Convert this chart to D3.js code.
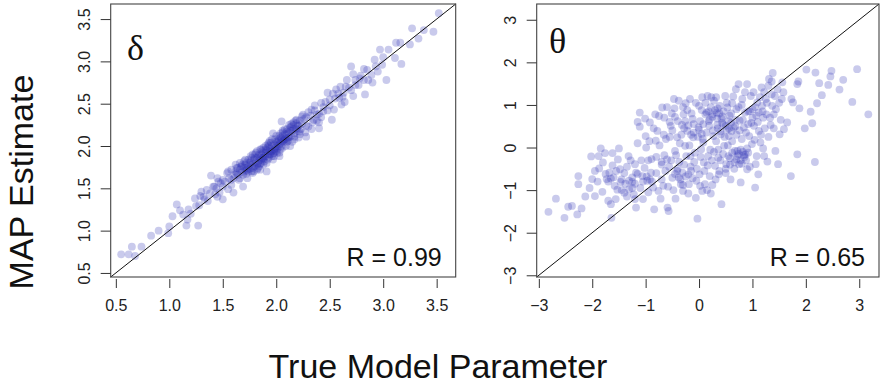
<!DOCTYPE html>
<html><head><meta charset="utf-8">
<script src="https://cdn.jsdelivr.net/npm/d3@7"></script>
<style>html,body{margin:0;padding:0;background:#fff;}svg{display:block;}</style>
</head><body>
<svg id="chart" width="880" height="385"></svg>
<script>
// ---------- data ----------
const deltaTicks = [0.5, 1.0, 1.5, 2.0, 2.5, 3.0, 3.5];
const thetaTicks = [-3, -2, -1, 0, 1, 2, 3];
const deltaR = "R = 0.99";
const thetaR = "R = 0.65";
// [true, MAP]
const deltaPoints = [
[0.55,0.72],[0.62,0.72],[0.65,0.81],[0.68,0.70],[0.74,0.81],[0.83,0.94],[0.90,1.00],[0.99,0.97],[1.00,1.05],[1.03,1.17],
[1.07,1.31],[1.10,1.24],[1.13,1.19],[1.16,1.06],[1.17,1.13],[1.18,1.25],[1.25,1.29],[1.27,1.06],[1.29,1.41],[1.30,1.46],
[1.33,1.37],[1.36,1.35],[1.39,1.65],[1.41,1.52],[1.43,1.43],[1.46,1.58],[1.48,1.56],[1.50,1.37],[1.54,1.68],[1.55,1.49],
[1.58,1.54],[1.60,1.45],[1.63,1.68],[1.65,1.60],[1.68,1.76],[1.69,1.52],[1.72,1.71],[1.75,1.80],[1.78,1.68],[1.82,1.86],
[1.83,1.74],[1.85,1.96],[1.88,1.84],[1.91,1.70],[1.93,2.00],[1.94,1.90],[1.97,2.15],[1.99,1.96],[2.01,2.04],[2.03,1.88],
[2.05,2.29],[2.07,2.07],[2.10,2.17],[2.13,2.00],[2.14,2.23],[2.17,2.11],[2.19,2.31],[2.22,2.17],[2.25,2.37],[2.28,2.11],
[2.30,2.23],[2.33,2.43],[2.35,2.31],[2.38,2.37],[2.40,2.21],[2.42,2.51],[2.44,2.41],[2.48,2.63],[2.50,2.55],[2.52,2.31],
[2.54,2.43],[2.56,2.67],[2.59,2.57],[2.61,2.49],[2.63,2.63],[2.66,2.78],[2.68,2.69],[2.70,2.94],[2.72,2.59],[2.74,2.78],
[2.77,2.72],[2.79,2.83],[2.82,2.91],[2.83,2.61],[2.86,2.78],[2.89,2.84],[2.92,3.02],[2.93,2.94],[2.95,2.88],[2.97,3.14],
[2.99,2.96],[3.03,2.78],[3.05,3.14],[3.11,3.04],[3.12,3.22],[3.16,3.22],[3.17,2.97],[3.25,3.20],[3.27,3.39],[3.33,3.27],
[3.38,3.37],[3.47,3.35],[3.52,3.57],
[1.62,1.70],[1.64,1.66],[1.66,1.72],[1.68,1.69],[1.70,1.74],[1.71,1.78],[1.72,1.67],[1.74,1.76],[1.75,1.73],[1.76,1.82],
[1.77,1.70],[1.78,1.79],[1.79,1.84],[1.80,1.76],[1.81,1.81],[1.82,1.78],[1.83,1.88],[1.84,1.83],[1.85,1.79],[1.86,1.90],
[1.87,1.86],[1.88,1.92],[1.89,1.82],[1.90,1.88],[1.91,1.95],[1.92,1.90],[1.93,1.86],[1.94,1.97],[1.95,1.93],[1.96,2.00],
[1.97,1.91],[1.98,2.02],[1.99,1.98],[2.00,2.05],[2.01,1.97],[2.02,2.08],[2.03,2.02],[2.04,2.10],[2.05,2.00],[2.06,2.12],
[2.07,2.05],[2.08,2.14],[2.09,2.09],[2.10,2.20],[2.11,2.06],[2.12,2.16],[2.13,2.22],[2.14,2.12],[2.15,2.18],[2.16,2.25],
[2.17,2.15],[2.18,2.21],[2.19,2.27],[2.20,2.18],[2.21,2.24],[2.22,2.30],[2.23,2.20],[2.24,2.26],[2.26,2.32],[2.28,2.24],
[1.80,1.86],[1.84,1.90],[1.88,1.86],[1.92,1.98],[1.96,1.94],[2.00,2.00],[2.04,2.04],[2.08,2.08],[2.12,2.10],[1.86,1.84],
[1.90,1.92],[1.94,1.90],[1.98,1.96],[2.02,2.00],[2.06,2.06],[1.76,1.78],[1.72,1.74],[2.16,2.20],[2.10,2.14],[1.83,1.80],
[1.32,1.40],[1.38,1.44],[1.44,1.50],[1.50,1.52],[1.52,1.58],[1.56,1.62],[1.58,1.60],[1.47,1.45],[1.42,1.52],[1.35,1.48],
[2.32,2.36],[2.36,2.42],[2.40,2.38],[2.44,2.46],[2.46,2.52],[2.50,2.48],[2.55,2.56],[2.58,2.62],[2.62,2.58],[2.65,2.70],
[2.70,2.66],[2.74,2.72],[2.78,2.80],[2.82,2.78],[2.38,2.30],[2.42,2.34],[2.48,2.42],[2.53,2.62],[2.28,2.34],[2.34,2.28],
[1.45,1.62],[1.50,1.60],[1.55,1.70],[1.60,1.62],[1.62,1.78],[1.66,1.62],[1.70,1.82],[1.73,1.62],[1.76,1.88],[1.79,1.70],
[1.82,1.94],[1.85,1.72],[1.88,1.98],[1.91,1.80],[1.94,2.06],[1.97,1.84],[2.00,2.12],[2.03,1.92],[2.06,2.18],[2.09,2.00],
[2.12,2.25],[2.15,2.05],[2.18,2.30],[2.21,2.10],[2.24,2.35],[2.27,2.16],[2.30,2.40],[2.33,2.20],[2.36,2.48],[2.40,2.28],
[1.68,1.78],[1.74,1.70],[1.80,1.90],[1.86,1.80],[1.92,2.02],[1.98,1.92],[2.04,2.15],[2.10,2.05],[2.16,2.28],[2.22,2.14],
[1.90,1.96],[1.95,2.04],[2.00,1.94],[2.05,2.08],[1.85,1.86],[1.78,1.74],[2.13,2.18],[2.19,2.20],[1.72,1.80],[1.64,1.74],
[1.20,1.20],[1.24,1.38],[1.28,1.30],[1.45,1.40],[2.60,2.70],[2.64,2.52],[2.72,2.85],[2.85,2.90],[2.90,2.75],[3.00,3.05],
[1.58,1.72],[1.61,1.66],[1.63,1.74],[1.67,1.76],[1.69,1.66],[1.71,1.84],[1.73,1.72],[1.77,1.86],[1.79,1.76],[1.81,1.92],
[1.84,1.76],[1.87,1.94],[1.89,1.88],[1.92,1.84],[1.93,2.04],[1.96,1.88],[1.99,2.08],[2.01,1.92],[2.03,2.12],[2.06,1.98],
[2.08,2.20],[2.11,2.10],[2.14,2.26],[2.17,2.08],[2.20,2.24],[1.74,1.84],[1.82,1.72],[1.90,2.00],[1.98,1.88],[2.06,2.16],
[1.66,1.80],[1.70,1.70],[1.78,1.90],[1.86,1.96],[1.94,1.94],[2.02,2.06],[2.10,2.08],[1.88,1.78],[1.96,2.08],[2.04,1.96]
];
const thetaPoints = [
[-2.82,-1.51],[-2.68,-1.20],[-2.52,-1.65],[-2.45,-1.39],[-2.38,-1.37],[-2.28,-1.57],[-2.20,-1.43],[-2.26,-0.67],[-2.26,-0.86],[-2.13,-1.15],
[-2.02,-0.21],[-2.00,-0.74],[-1.95,-1.14],[-1.88,-0.20],[-1.84,-0.02],[-1.87,-0.49],[-1.81,-1.04],[-1.76,-0.13],[-1.73,-0.74],[-1.70,-1.25],
[-1.65,-1.33],[-1.64,-1.65],[-1.62,-0.13],[-1.53,-0.99],[-1.50,-0.02],[-1.68,-0.59],[-1.65,-0.73],[-1.48,-0.51],[-1.47,-0.81],[-1.56,-1.21],
[-1.31,-0.78],[-1.40,-1.06],[-1.31,-0.98],[-1.25,-0.81],[-1.18,-1.41],[-1.20,-1.21],[-1.20,-0.39],[-1.18,-0.59],[-1.15,0.10],[-1.11,0.82],
[-1.15,0.60],[-1.11,0.49],[-1.06,-0.67],[-1.05,-1.21],[-0.97,-0.78],[-1.00,0.27],[-0.99,0.00],[-1.01,0.68],[-0.92,0.59],[-0.90,-0.59],
[-0.89,-0.27],[-0.86,-0.94],[-0.84,-1.45],[-0.82,0.78],[-0.81,0.16],[-0.78,0.39],[-0.75,0.74],[-0.72,-1.20],[-0.70,-0.34],[-0.69,0.94],
[-0.67,-0.90],[-0.65,-0.18],[-0.62,0.20],[-0.59,-1.41],[-0.57,-1.49],[-0.56,-0.45],[-0.53,0.51],[-0.51,0.80],[-0.50,-0.71],[-0.47,1.14],
[-0.45,-0.08],[-0.44,-1.20],[-0.41,0.24],[-0.41,-0.55],[-0.37,-0.34],[-0.34,-0.86],[-0.32,0.53],[-0.31,-0.59],[-0.29,0.78],[-0.26,0.04],
[-0.25,1.04],[-0.22,0.39],[-0.20,-0.63],[-0.19,-0.86],[-0.17,1.14],[-0.16,-0.20],[-0.12,0.67],[-0.11,0.24],[-0.09,-0.34],[-0.06,-1.18],
[-0.05,-0.78],[-0.03,-1.67],[-0.01,0.47],[0.00,0.98],[0.01,-0.63],[0.04,-0.04],[0.06,1.18],[0.07,0.20],[0.09,-0.35],[0.11,-0.86],
[0.14,0.82],[0.16,1.21],[0.17,-0.20],[0.19,0.51],[0.20,-0.67],[0.22,-1.08],[0.23,1.18],[0.25,0.78],[0.27,0.27],[0.28,-0.10],
[0.30,-0.43],[0.32,1.18],[0.33,0.82],[0.34,0.53],[0.36,-0.24],[0.37,-0.63],[0.41,0.31],[0.42,-1.33],[0.44,0.73],[0.47,0.04],
[0.49,1.21],[0.50,0.51],[0.51,-0.39],[0.53,0.94],[0.55,-0.20],[0.56,0.27],[0.57,0.75],[0.59,-0.75],[0.61,0.39],[0.62,1.04],
[0.65,0.47],[0.67,-0.08],[0.69,1.37],[0.70,0.90],[0.72,-0.20],[0.74,1.49],[0.75,-0.39],[0.76,0.63],[0.78,-0.82],[0.80,0.20],
[0.81,1.14],[0.82,-0.10],[0.84,0.47],[0.86,0.82],[0.87,-0.16],[0.90,1.49],[0.90,-0.51],[0.92,0.55],[0.94,0.27],[0.97,1.21],
[0.99,0.08],[1.00,0.90],[1.03,0.51],[1.05,-0.94],[1.06,-0.39],[1.07,0.75],[1.09,1.06],[1.11,-0.63],[1.12,0.39],[1.15,0.12],
[1.17,1.41],[1.18,0.98],[1.20,-0.02],[1.22,-0.20],[1.25,1.14],[1.26,0.78],[1.28,-0.33],[1.31,1.61],[1.34,0.53],[1.36,1.55],
[1.37,0.98],[1.38,1.75],[1.40,0.78],[1.42,1.21],[1.43,-0.08],[1.47,1.37],[1.48,-0.39],[1.51,0.31],[1.55,1.14],[1.56,1.53],
[1.59,0.43],[1.65,0.59],[1.72,-0.67],[1.73,1.14],[1.76,1.06],[1.84,1.49],[1.84,-0.16],[1.86,1.55],[1.88,0.92],[1.98,0.45],
[2.01,1.83],[2.09,0.84],[2.12,0.57],[2.17,-0.34],[2.18,1.76],[2.21,1.04],[2.25,1.51],[2.30,1.23],[2.42,1.47],[2.46,1.67],
[2.48,1.80],[2.63,1.36],[2.70,1.59],[2.87,1.07],[2.96,1.84],[3.17,0.78],
[0.62,-0.12],[0.70,-0.28],[0.78,-0.05],[0.85,-0.22],[0.66,-0.35],[0.92,-0.12],[0.74,-0.15],[0.58,-0.25],[0.88,-0.30],[0.80,-0.38],
[0.12,0.78],[0.18,0.85],[0.25,0.72],[0.30,0.88],[0.38,0.80],[0.42,0.68],[0.20,0.66],[0.35,0.92],
[-0.28,0.45],[-0.20,0.52],[-0.10,0.35],[0.00,0.42],[0.08,0.55],[-0.15,0.30],[0.05,0.32],
[0.35,0.45],[0.45,0.55],[0.52,0.42],[0.60,0.58],[0.68,0.50],[0.40,0.38],[0.55,0.62],
[-1.25,-0.70],[-1.15,-0.62],[-1.05,-0.80],[-0.98,-0.68],[-1.20,-0.85],[-0.92,-0.75],
[-0.45,-0.62],[-0.35,-0.75],[-0.25,-0.68],[-0.15,-0.55],[-0.30,-0.88],[-0.40,-0.50],
[-1.75,-0.62],[-1.60,-0.70],[-1.55,-0.55],[-1.70,-0.80],
[0.95,0.85],[1.05,0.95],[1.12,0.82],[1.20,0.70],[1.00,0.70],[1.22,1.30],[1.30,1.45],
[-0.65,0.70],[-0.55,0.60],[-0.45,0.72],[-0.95,-0.30],[-0.80,-0.22],[-0.70,-0.40],[-0.60,-0.28],
[0.38,-0.55],[0.50,-0.60],[-0.38,1.10],[-0.30,0.95],[0.02,-0.90],[0.15,-1.00],[0.25,-0.88],
[-1.45,-1.00],[-1.35,-1.15],[-1.25,-0.95],
[-1.40,-0.60],[-1.35,-0.45],[-1.28,-0.30],[-1.22,-1.10],[-1.10,-0.95],[-1.08,-0.30],[-1.02,-0.48],[-0.95,-1.05],[-0.93,0.15],[-0.88,-0.80],
[-0.85,0.45],[-0.80,-0.60],[-0.76,-1.02],[-0.74,0.05],[-0.70,-0.75],[-0.66,0.30],[-0.63,-0.55],[-0.60,0.95],[-0.58,-0.92],[-0.55,0.25],
[-0.52,-0.30],[-0.50,0.40],[-0.48,-1.00],[-0.46,0.92],[-0.43,-0.18],[-0.40,0.62],[-0.38,-0.70],[-0.36,0.10],[-0.33,0.30],[-0.30,-1.02],
[-0.28,-0.40],[-0.26,0.62],[-0.24,-0.20],[-0.22,0.88],[-0.20,-1.08],[-0.18,0.05],[-0.16,-0.45],[-0.14,0.80],[-0.12,-0.72],[-0.10,0.55],
[-0.08,-0.12],[-0.06,1.05],[-0.04,-0.50],[-0.02,0.25],[0.02,0.62],[0.03,-0.22],[0.05,0.88],[0.06,-1.02],[0.08,0.12],[0.10,-0.55],
[0.12,1.05],[0.14,0.35],[0.16,-0.42],[0.18,0.62],[0.21,-0.05],[0.22,0.95],[0.24,-0.30],[0.26,0.40],[0.28,1.10],[0.31,-0.75],
[0.32,0.15],[0.34,0.68],[0.36,-0.05],[0.39,0.98],[0.40,-0.30],[0.43,0.58],[0.45,-0.15],[0.46,0.85],[0.48,0.25],[0.50,-0.50],
[0.52,1.05],[0.54,0.05],[0.56,0.45],[0.58,-0.40],[0.60,0.80],[0.62,0.15],[0.64,1.20],[0.66,-0.50],[0.68,0.65],[0.70,0.30],
[0.72,-0.08],[0.74,0.95],[0.76,0.40],[0.78,-0.30],[0.80,1.00],[0.82,0.65],[0.84,-0.18],[0.86,1.30],[0.88,0.35],[0.90,-0.02],
[0.92,0.85],[0.95,-0.45],[0.98,0.58],[1.02,1.30],[1.04,0.18],[1.08,-0.20],[1.10,0.60],[1.14,1.18],[1.16,0.30],[1.19,0.85],
[1.23,0.45],[1.27,1.05],[1.30,0.25],[1.33,0.70],[1.36,1.25],[1.40,0.45],[1.44,0.90],[1.50,1.05],[1.53,0.65],[1.58,1.30],
[-1.90,-0.80],[-1.80,-0.35],[-1.58,-0.90],[-1.52,-0.28],[-1.45,-0.75],[-1.38,-0.85],[-1.32,-0.20],[-2.05,-0.95],[-1.95,-0.55],[-1.62,-0.42]
];

// ---------- layout ----------
const svg = d3.select("#chart");
const FONT = "'Liberation Sans', Arial, Helvetica, sans-serif";
const pointFill = "rgba(45,50,180,0.26)";

const panels = [
  { pts: deltaPoints, ticks: deltaTicks, fmt: d3.format(".1f"), dom: [0.452, 3.678], dom2: [0.452, 3.678],
    left: 110.7, right: 455.7, greek: "δ", gx: 127, gy: 60, rText: deltaR },
  { pts: thetaPoints, ticks: thetaTicks, fmt: d => d < 0 ? "\u2212" + Math.abs(d) : String(d), dom: [-3.04, 3.37], dom2: [-3.04, 3.37],
    left: 536.7, right: 879, greek: "θ", gx: 549, gy: 53, rText: thetaR }
];
const plotTop = 4, plotBottom = 277;

panels.forEach(p => {
  const x = d3.scaleLinear().domain(p.dom).range([p.left, p.right]);
  const y = d3.scaleLinear().domain(p.dom2).range([plotBottom, plotTop]);
  const g = svg.append("g");

  // points
  g.append("g").selectAll("circle").data(p.pts).join("circle")
    .attr("cx", d => x(d[0])).attr("cy", d => y(d[1])).attr("r", 3.9)
    .attr("fill", pointFill);

  // identity line corner to corner
  const lo = Math.max(p.dom[0], p.dom2[0]), hi = Math.min(p.dom[1], p.dom2[1]);
  g.append("line").attr("x1", x(lo)).attr("y1", y(lo)).attr("x2", x(hi)).attr("y2", y(hi))
    .attr("stroke", "#111").attr("stroke-width", 1);

  // frame
  g.append("rect").attr("x", p.left).attr("y", plotTop).attr("width", p.right - p.left).attr("height", plotBottom - plotTop)
    .attr("fill", "none").attr("stroke", "#444").attr("stroke-width", 1.1);

  // x axis
  const xa = g.append("g").attr("transform", `translate(0,${plotBottom + 2})`)
    .call(d3.axisBottom(x).tickValues(p.ticks).tickFormat(p.fmt).tickSize(9).tickPadding(12));
  xa.select(".domain").remove();
  xa.selectAll("line").attr("stroke", "#333");
  xa.selectAll("text").attr("font-family", FONT).attr("font-size", 16).attr("fill", "#222");

  // y axis
  const ya = g.append("g").attr("transform", `translate(${p.left},0)`)
    .call(d3.axisLeft(y).tickValues(p.ticks).tickFormat(p.fmt).tickSize(10).tickPadding(0));
  ya.select(".domain").remove();
  ya.selectAll("line").attr("stroke", "#333");
  ya.selectAll("text")
    .attr("font-family", FONT).attr("font-size", 16).attr("fill", "#222")
    .attr("x", null).attr("dy", null)
    .attr("text-anchor", "middle")
    .attr("transform", "translate(-21,0) rotate(-90)");

  // greek label
  g.append("text").attr("x", p.gx).attr("y", p.gy).text(p.greek)
    .attr("font-family", "'Liberation Serif','DejaVu Serif',serif").attr("font-size", 36).attr("fill", "#111");

  // R text
  g.append("text").attr("x", p.right - 14).attr("y", 266).attr("text-anchor", "end").text(p.rText)
    .attr("font-family", FONT).attr("font-size", 25).attr("fill", "#111");
});

// axis titles
svg.append("text").attr("x", 438).attr("y", 378).attr("text-anchor", "middle")
  .attr("font-family", FONT).attr("font-size", 34).attr("fill", "#111").text("True Model Parameter");
svg.append("text").attr("transform", "translate(33,182) rotate(-90)").attr("text-anchor", "middle")
  .attr("font-family", FONT).attr("font-size", 34).attr("fill", "#111").text("MAP Estimate");
</script>
</body></html>
